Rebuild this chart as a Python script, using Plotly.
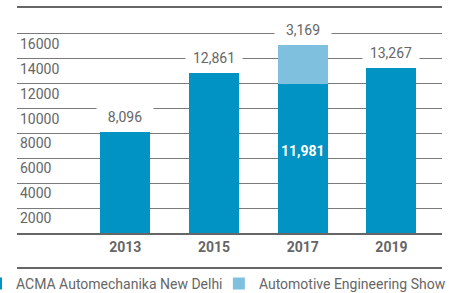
import plotly.graph_objects as go

years = ["2013", "2015", "2017", "2019"]
acma = [8096, 12861, 11981, 13267]
aes = [0, 0, 3169, 0]
totals_labels = ["8,096", "12,861", "3,169", "13,267"]
inner_label = "11,981"
y_ticks = [2000, 4000, 6000, 8000, 10000, 12000, 14000, 16000]
y_ticktext = [str(v) for v in y_ticks]

DARK = "#0093c4"
LIGHT = "#7fc0de"
TXT = "#666666"
GRID = "#7a7a7a"
FONT = "Roboto"

fig = go.Figure()
fig.add_trace(go.Bar(x=years, y=acma, name="ACMA Automechanika New Delhi",
                     marker=dict(color=DARK, line=dict(width=0)), width=0.565,
                     legend="legend"))
fig.add_trace(go.Bar(x=years, y=aes, name="Automotive Engineering Show",
                     marker=dict(color=LIGHT, line=dict(width=0)), width=0.565,
                     legend="legend2"))

annotations = []
for i, yr in enumerate(years):
    top = acma[i] + aes[i]
    annotations.append(dict(x=i, y=top, xref="x", yref="y", text=totals_labels[i],
                            showarrow=False, yanchor="bottom", width=54, height=27,
                            bgcolor="white", font=dict(family=FONT, size=14, color=TXT)))
annotations.append(dict(x=2, y=acma[2] * 0.55, xref="x", yref="y", text="<b>" + inner_label + "</b>",
                        showarrow=False, font=dict(family=FONT, size=14, color="white")))

legend_common = dict(orientation="h", xanchor="left", y=-0.225, yanchor="middle",
                     font=dict(family=FONT, size=14, color=TXT), bgcolor="rgba(0,0,0,0)",
                     itemclick=False, itemdoubleclick=False)

fig.update_layout(
    width=452, height=293,
    margin=dict(l=17, r=10, t=7, b=60, autoexpand=False),
    paper_bgcolor="white", plot_bgcolor="white",
    barmode="stack",
    showlegend=True,
    font=dict(family=FONT, color=TXT),
    xaxis=dict(type="category", range=[-1.22, 3.57], showgrid=False,
               showline=True, linecolor="#666666", linewidth=2,
               tickfont=dict(family=FONT, size=14, color=TXT, weight="bold"),
               ticks="", fixedrange=True),
    yaxis=dict(range=[0, 18170], tickvals=y_ticks, ticktext=y_ticktext,
               ticklabelposition="inside", ticklabelshift=10,
               tickfont=dict(family=FONT, size=14, color=TXT),
               showgrid=True, gridcolor=GRID, gridwidth=1.1,
               zeroline=False, showline=False, ticks="", fixedrange=True),
    legend=dict(x=-0.0965, **legend_common),
    legend2=dict(x=0.475, **legend_common),
    annotations=annotations,
    shapes=[
        dict(type="line", xref="paper", yref="paper", x0=0, x1=1, y0=1, y1=1,
             line=dict(color="#666666", width=2)),
        dict(type="line", xref="paper", yref="paper", x0=0, x1=1, y0=-0.155, y1=-0.155,
             line=dict(color="#666666", width=2)),
    ],
)

fig.write_html("out.html", config={"displayModeBar": False},
               post_script="document.body.style.margin='0px';")
